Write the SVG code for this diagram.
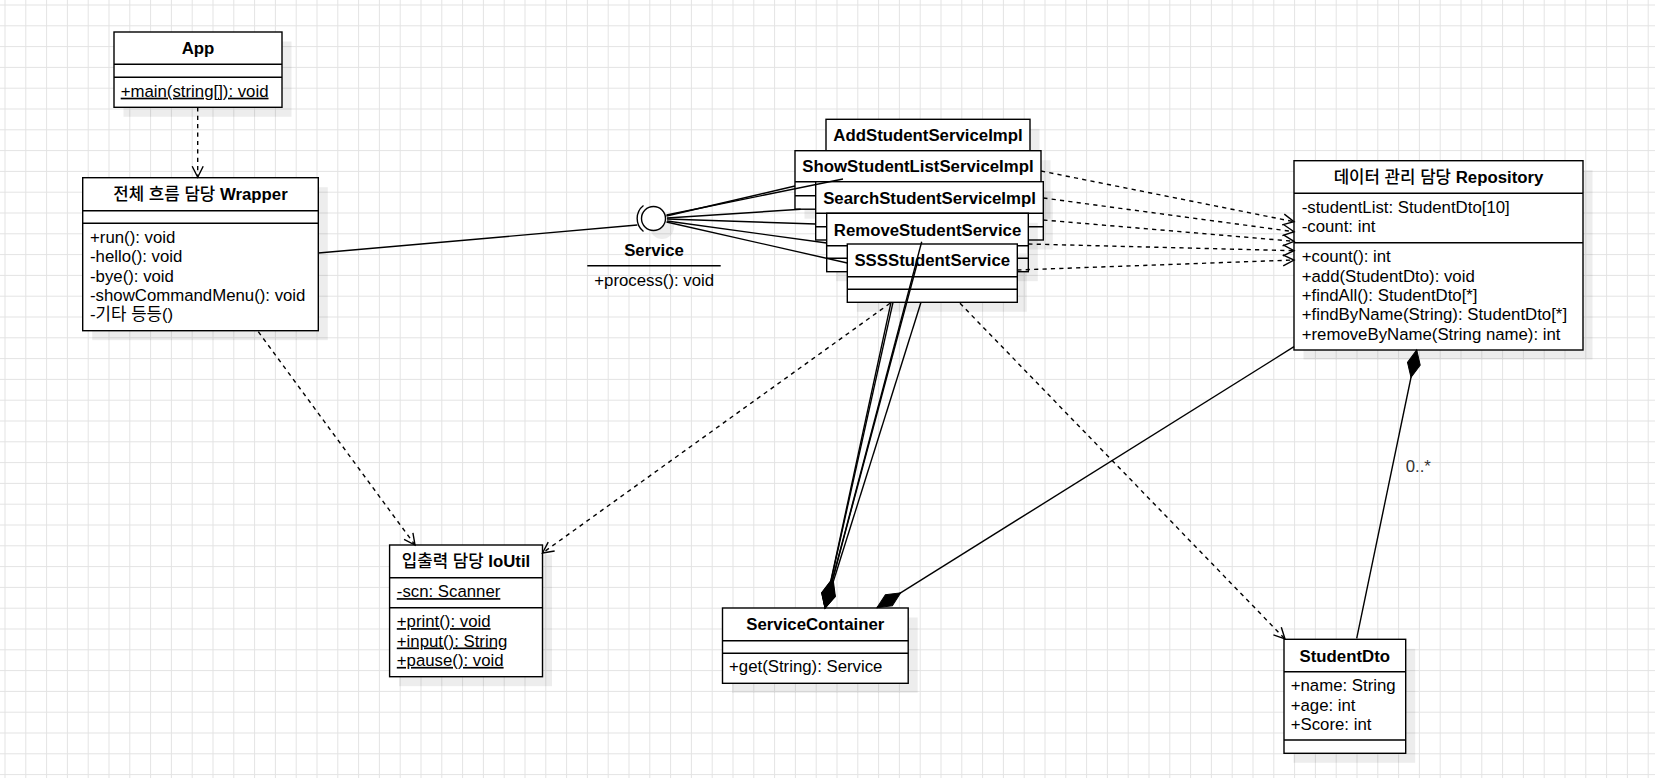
<svg xmlns="http://www.w3.org/2000/svg" width="1655" height="778" viewBox="0 0 1655 778">
<style>
.box{fill:#fff;stroke:#000;stroke-width:1.4}
.sh{fill:#000;fill-opacity:.07}
.dv{stroke:#000;stroke-width:1.4;fill:none}
.t{font-family:"Liberation Sans","Noto Sans CJK KR",sans-serif;font-size:16.8px;fill:#000}
.b{font-weight:bold}
.k{font-weight:500}
.m{text-anchor:middle}
.u{text-decoration:underline}
.e{fill:none;stroke:#000;stroke-width:1.4}
.d{stroke-dasharray:4.2 4.2}
.lbl{font-family:"Liberation Sans",sans-serif;font-size:16.8px;fill:#333}
</style>
<defs>
<pattern id="grid" x="4.5" y="4.5" width="20.8" height="20.8" patternUnits="userSpaceOnUse"><path d="M0 0.5H20.8M0.5 0V20.8" stroke="#e3e3e3" stroke-width="1" fill="none"/></pattern>
<marker id="open" markerUnits="userSpaceOnUse" markerWidth="16" markerHeight="16" refX="13" refY="8" orient="auto"><path d="M2,2.5 L13,8 L2,13.5" fill="none" stroke="#000" stroke-width="1.4"/></marker>
<marker id="dia" markerUnits="userSpaceOnUse" markerWidth="32" markerHeight="16" refX="30" refY="8" orient="auto"><path d="M2,8 L16,1.5 L30,8 L16,14.5 Z" fill="#000" stroke="#000" stroke-width="1"/></marker>
</defs>
<rect width="1655" height="778" fill="#fff"/>
<rect width="1655" height="778" fill="url(#grid)"/>

<g id="App">
<rect class="sh" x="123.5" y="41.5" width="168" height="75.3"/>
<rect class="box" x="114" y="32" width="168" height="75.3"/>
<path class="dv" d="M114 64.3H282M114 77.3H282"/>
<text class="t b m" x="198" y="54.2">App</text>
<text class="t u" x="120.7" y="96.7">+main(string[]): void</text>
</g>

<g id="Wrapper">
<rect class="sh" x="92.2" y="187.2" width="235.6" height="153"/>
<rect class="box" x="82.7" y="177.7" width="235.6" height="153"/>
<path class="dv" d="M82.7 210.7H318.3M82.7 223.3H318.3"/>
<text class="t b m" x="200.5" y="200.2"><tspan class="k">전체 흐름 담당</tspan> Wrapper</text>
<text class="t" x="90" y="242.7">+run(): void</text>
<text class="t" x="90" y="262.1">-hello(): void</text>
<text class="t" x="90" y="281.5">-bye(): void</text>
<text class="t" x="90" y="300.9">-showCommandMenu(): void</text>
<text class="t" x="90" y="320.3">-기타 등등()</text>
</g>

<g id="IoUtil">
<rect class="sh" x="399.1" y="554.5" width="152.9" height="131.7"/>
<rect class="box" x="389.6" y="545" width="152.9" height="131.7"/>
<path class="dv" d="M389.6 577.7H542.5M389.6 607.7H542.5"/>
<text class="t b m" x="466" y="567.4"><tspan class="k">입출력 담당</tspan> IoUtil</text>
<text class="t u" x="396.8" y="597.1">-scn: Scanner</text>
<text class="t u" x="396.8" y="627.1">+print(): void</text>
<text class="t u" x="396.8" y="646.5">+input(): String</text>
<text class="t u" x="396.8" y="665.9">+pause(): void</text>
</g>

<g id="ServiceContainer">
<rect class="sh" x="732" y="617.5" width="185.7" height="75.3"/>
<rect class="box" x="722.5" y="608" width="185.7" height="75.3"/>
<path class="dv" d="M722.5 640.7H908.2M722.5 653.3H908.2"/>
<text class="t b m" x="815.3" y="630.4">ServiceContainer</text>
<text class="t" x="729" y="672.4">+get(String): Service</text>
</g>

<g id="Repository">
<rect class="sh" x="1303.5" y="170.2" width="289" height="189.3"/>
<rect class="box" x="1294" y="160.7" width="289" height="189.3"/>
<path class="dv" d="M1294 193.3H1583M1294 242.7H1583"/>
<text class="t b m" x="1438.5" y="183"><tspan class="k">데이터 관리 담당</tspan> Repository</text>
<text class="t" x="1301.7" y="212.7">-studentList: StudentDto[10]</text>
<text class="t" x="1301.7" y="232.1">-count: int</text>
<text class="t" x="1301.7" y="262.1">+count(): int</text>
<text class="t" x="1301.7" y="281.5">+add(StudentDto): void</text>
<text class="t" x="1301.7" y="300.9">+findAll(): StudentDto[*]</text>
<text class="t" x="1301.7" y="320.3">+findByName(String): StudentDto[*]</text>
<text class="t" x="1301.7" y="339.7">+removeByName(String name): int</text>
</g>

<g id="StudentDto">
<rect class="sh" x="1293.5" y="648.8" width="121.7" height="114"/>
<rect class="box" x="1284" y="639.3" width="121.7" height="114"/>
<path class="dv" d="M1284 671.7H1405.7M1284 740H1405.7"/>
<text class="t b m" x="1344.8" y="661.5">StudentDto</text>
<text class="t" x="1290.7" y="691.1">+name: String</text>
<text class="t" x="1290.7" y="710.5">+age: int</text>
<text class="t" x="1290.7" y="729.9">+Score: int</text>
</g>

<g id="Service">
<circle cx="662" cy="227" r="12" class="sh"/>
<circle cx="653.5" cy="218.5" r="12" fill="#fff" stroke="#000" stroke-width="1.4"/>
<path class="e" d="M643.5 205.5A16.5 16.5 0 0 0 643.5 231.5"/>
<text class="t b m" x="654" y="255.7">Service</text>
<path class="dv" d="M587.3 265.7H720.7"/>
<text class="t" x="594.3" y="285.7">+process(): void</text>
</g>

<g id="AddStudentServiceImpl">
<rect class="sh" x="835.5" y="128.8" width="204" height="58.3"/>
<rect class="box" x="826" y="119.3" width="204" height="58.3"/>
<path class="dv" d="M826 151.3H1030M826 164.3H1030"/>
<text class="t b m" x="928" y="141">AddStudentServiceImpl</text>
</g>

<g id="ShowStudentListServiceImpl">
<rect class="sh" x="804.5" y="160.2" width="246" height="58.5"/>
<rect class="box" x="795" y="150.7" width="246" height="58.5"/>
<path class="dv" d="M795 181.7H1041M795 195.7H1041"/>
<text class="t b m" x="918" y="172.2">ShowStudentListServiceImpl</text>
</g>

<g id="SearchStudentServiceImpl">
<rect class="sh" x="825.2" y="191.2" width="227.6" height="58.3"/>
<rect class="box" x="815.7" y="181.7" width="227.6" height="58.3"/>
<path class="dv" d="M815.7 213.3H1043.3M815.7 226.7H1043.3"/>
<text class="t b m" x="929.5" y="203.5">SearchStudentServiceImpl</text>
</g>

<g id="RemoveStudentService">
<rect class="sh" x="836.2" y="222.8" width="201.6" height="58.4"/>
<rect class="box" x="826.7" y="213.3" width="201.6" height="58.4"/>
<path class="dv" d="M826.7 245.7H1028.3M826.7 258.3H1028.3"/>
<text class="t b m" x="927.5" y="235.5">RemoveStudentService</text>
</g>

<g id="SSSStudentService">
<rect class="sh" x="856.8" y="253.5" width="170" height="58.3"/>
<rect class="box" x="847.3" y="244" width="170" height="58.3"/>
<path class="dv" d="M847.3 276.7H1017.3M847.3 289.3H1017.3"/>
<text class="t b m" x="932.3" y="266.3">SSSStudentService</text>
</g>

<g id="connectors">
<path class="e d" d="M197.7 107.3V177.2" marker-end="url(#open)"/>
<path class="e d" d="M258.3 331.7L415 545" marker-end="url(#open)"/>
<path class="e d" d="M890 303.3L542.5 553" marker-end="url(#open)"/>
<path class="e d" d="M960 303.3L1285 639" marker-end="url(#open)"/>
<path class="e d" d="M1041 171L1294 221.7" marker-end="url(#open)"/>
<path class="e d" d="M1043.3 198L1294 231.7" marker-end="url(#open)"/>
<path class="e d" d="M1043.3 220L1294 241.3" marker-end="url(#open)"/>
<path class="e d" d="M1028.3 244L1294 250.7" marker-end="url(#open)"/>
<path class="e d" d="M1017.3 270L1294 260" marker-end="url(#open)"/>
<path class="e" d="M318.3 253L637.3 225"/>
<path class="e" d="M666.5 215L843 179"/>
<path class="e" d="M666.5 216L795 186"/>
<path class="e" d="M667 218L800.7 209.3"/>
<path class="e" d="M667 219L815.7 224"/>
<path class="e" d="M667 221L826.7 243"/>
<path class="e" d="M666.5 222L847.3 263"/>
<path class="e" d="M921.7 241.7L825 608" marker-end="url(#dia)"/>
<path class="e" d="M917.3 263L825 608" marker-end="url(#dia)"/>
<path class="e" d="M891 302.3L825 608" marker-end="url(#dia)"/>
<path class="e" d="M893 302.3L825 608" marker-end="url(#dia)"/>
<path class="e" d="M921 302.3L825 608" marker-end="url(#dia)"/>
<path class="e" d="M1294 346.7L877 607.7" marker-end="url(#dia)"/>
<path class="e" d="M1356.7 638.3L1416.7 350" marker-end="url(#dia)"/>
<text class="lbl" x="1405.7" y="471.7">0..*</text>
</g>
</svg>
